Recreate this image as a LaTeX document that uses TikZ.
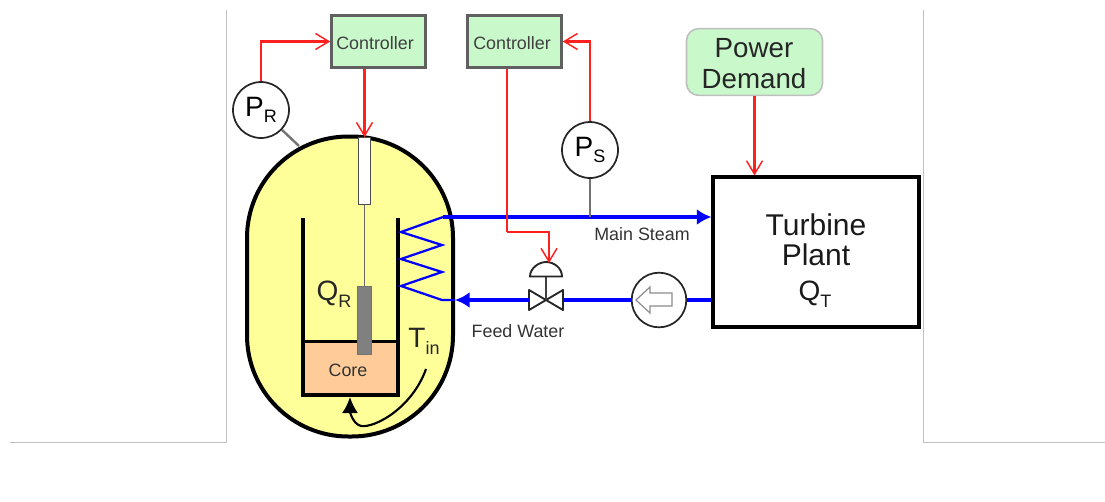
\documentclass[tikz,border=0pt]{standalone}
\usepackage{fontspec}
\setmainfont{Liberation Sans}
\usetikzlibrary{arrows.meta}
\newcommand{\fs}[1]{\fontsize{#1}{#1}\selectfont}
\newcommand{\subt}[1]{\raisebox{-0.24em}{\fs{13.5}#1}}
\definecolor{ctlgreen}{HTML}{C9F9CB}
\definecolor{vesselyellow}{HTML}{FFFF99}
\definecolor{corefill}{HTML}{FFCC99}
\definecolor{framegray}{HTML}{C0C0C0}
\definecolor{ctlborder}{HTML}{606060}
\definecolor{flowred}{HTML}{FF2020}
\definecolor{flowblue}{HTML}{0000FF}
\tikzset{
  ctlbox/.style={draw=ctlborder,line width=2.4pt,fill=ctlgreen,inner sep=0,minimum width=70pt,minimum height=39.5pt},
  ctltext/.style={inner sep=0,text=black!75,font=\fs{13.4}},
  sensor/.style={circle,draw=black!85,line width=1.3pt,fill=white,inner sep=0,minimum size=42pt,font=\fs{21}},
  signal/.style={draw=flowred,line width=1.6pt,-{Straight Barb[length=10pt,width=12pt,line width=1.1pt]}},
  flow/.style={draw=flowblue,line width=2.6pt},
  flowarrow/.style={flow,-{Latex[length=11pt,width=12pt]}},
  thick gray/.style={draw=black!55,line width=1.8pt},
  wall/.style={draw=black,line width=2.8pt},
  lab/.style={inner sep=0,font=\fs{21}},
  smalllab/.style={inner sep=0,font=\fs{13.4},text=black!80},
  frame/.style={draw=framegray,line width=0.8pt}
}
\begin{document}
\begin{tikzpicture}[x=0.75pt,y=-0.75pt]
\useasboundingbox (0,0) rectangle (1105,501);
% page frame lines
\draw[frame] (10,442.5) -- (226.5,442.5) -- (226.5,10);
\draw[frame] (923.5,10) -- (923.5,442.5) -- (1105,442.5);

% reactor vessel
\node[draw=black,line width=3pt,fill=vesselyellow,rounded corners=76pt,inner sep=0,minimum width=154.5pt,minimum height=225pt] (reactor) at (350,286.5) {};
% core
\node[fill=corefill,inner sep=0,minimum width=71pt,minimum height=39pt] (core) at (351,367.5) {};
\coordinate (wallLT) at (303,218);
\coordinate (wallRT) at (398,218);
\coordinate (wallLB) at (303,395);
\coordinate (wallRB) at (398,395);
\draw[wall] (wallLT) -- (wallLB) -- (wallRB) -- (wallRT);
\draw[wall,line width=2pt] (core.north west) -- (core.north east);
% rod
\node[draw=black!70,line width=0.8pt,fill=white,inner sep=0,minimum width=9.5pt,minimum height=50pt] (rodtop) at (364.5,171) {};
\node[draw=black!55,line width=0.6pt,fill=black!50,inner sep=0,minimum width=10pt,minimum height=50.5pt] (rod) at (364.5,320.5) {};
\draw[draw=black!60,line width=0.7pt] (rodtop.south) -- (rod.north);
\node[smalllab] (corelab) at (348,370) {Core};
\node[lab,text=black!85] (qr) at (334,294) {Q\subt{R}};
\node[lab,text=black!85] (tin) at (424,341) {T\subt{in}};
% recirculation arrow
\coordinate (recircA) at (426,369);
\coordinate (recircB) at (350,397);
\draw[draw=black,line width=1.6pt,-{Latex[length=12pt,width=12pt]}] (recircA) .. controls (412,408) and (375,428) .. (361,426) .. controls (353,424) and (350,412) .. (recircB);

% coil and steam lines
\coordinate (c0) at (443,217);
\coordinate (c1) at (401,232);
\coordinate (c2) at (442,245);
\coordinate (c3) at (401,259);
\coordinate (c4) at (442,272);
\coordinate (c5) at (401,286);
\coordinate (c6) at (442,300);
\coordinate (c7) at (455,300);
\draw[flow,line width=1.7pt] (c0) -- (c1) -- (c2) -- (c3) -- (c4) -- (c5) -- (c6) -- (c7);

% turbine
\node[draw=black,line width=2.8pt,fill=white,inner sep=0,minimum width=154pt,minimum height=112pt] (turbine) at (816,252) {};
\node[inner sep=0,font=\fs{22.5},text=black!90] (turbinelab) at (816,225) {Turbine};
\node[inner sep=0,font=\fs{22.5},text=black!90] (plantlab) at (816,255) {Plant};
\node[lab,text=black!90] (qt) at (815,294) {Q\subt{T}};

% pump and valve
\node[sensor,minimum size=41pt] (pump) at (659,300) {};
\draw[draw=black!45,line width=0.9pt,fill=white] (636,300) -- (650,287) -- (650,293) -- (672,293) -- (672,306) -- (650,306) -- (650,313) -- cycle;
\coordinate (vc) at (546,300);
\coordinate (vl) at (529,300);
\coordinate (vr) at (564,300);
\draw[draw=black!85,line width=1.4pt,line join=round] (vc) -- (529,290) -- (529,310) -- (vc) -- (563,290) -- (563,310) -- cycle;
\draw[draw=black!75,line width=1.4pt] (vc) -- (546,276);
\draw[draw=black!85,line width=1.4pt,fill=white] (530,276.5) .. controls (530,268) and (539,262) .. (546,262) .. controls (554,262) and (562,268) .. (562,276.5) -- cycle;
\coordinate (valvetop) at (549,263);

% blue flow
\coordinate (steamstart) at (450,217);
\draw[flowarrow] (steamstart) -- (steamstart -| turbine.west);
\draw[flow] (steamstart) -- (c0);
\draw[flowarrow] (vl) -- (c7);
\draw[flow] (pump.west) -- (vr);
\draw[flow] (pump.east) -- (pump.east -| turbine.west);

% controllers, sensors
\node[ctlbox] (ctlA) at (378.5,41.5) {};
\node[ctltext] (ctlAtext) at (375,43) {Controller};
\node[ctlbox] (ctlB) at (514.5,41.5) {};
\node[ctltext] (ctlBtext) at (512,43) {Controller};
\node[draw=black!25,line width=1.2pt,fill=ctlgreen,rounded corners=9pt,inner sep=0,minimum width=102pt,minimum height=50pt] (demand) at (754.5,62) {};
\node[inner sep=0,font=\fs{20.8},text=black!85] (powerlab) at (754,48) {Power};
\node[inner sep=0,font=\fs{20.8},text=black!85] (demandlab) at (754,79) {Demand};
\node[sensor] (pr) at (261,110) {P\subt{R}};
\node[sensor] (ps) at (590,150) {P\subt{S}};

% signal lines
\draw[signal] (pr.north) |- (ctlA.west);
\draw[signal] (ctlA.south -| rodtop.north) -- (rodtop.north);
\coordinate (bend) at (507,232);
\draw[draw=flowred,line width=1.6pt] (ctlB.south -| bend) -- (bend);
\draw[signal] (bend) -| (valvetop);
\draw[signal] (ps.north) |- (ctlB.east);
\draw[signal] (demand.south) -- (demand.south |- turbine.north);
% gauge stems
\draw[thick gray] (pr) -- (299,146);
\draw[thick gray] (ps.south) -- (ps.south |- steamstart);

\node[smalllab] (steamlab) at (642,234) {Main Steam};
\node[smalllab] (feedlab) at (518,331) {Feed Water};
\end{tikzpicture}
\end{document}
